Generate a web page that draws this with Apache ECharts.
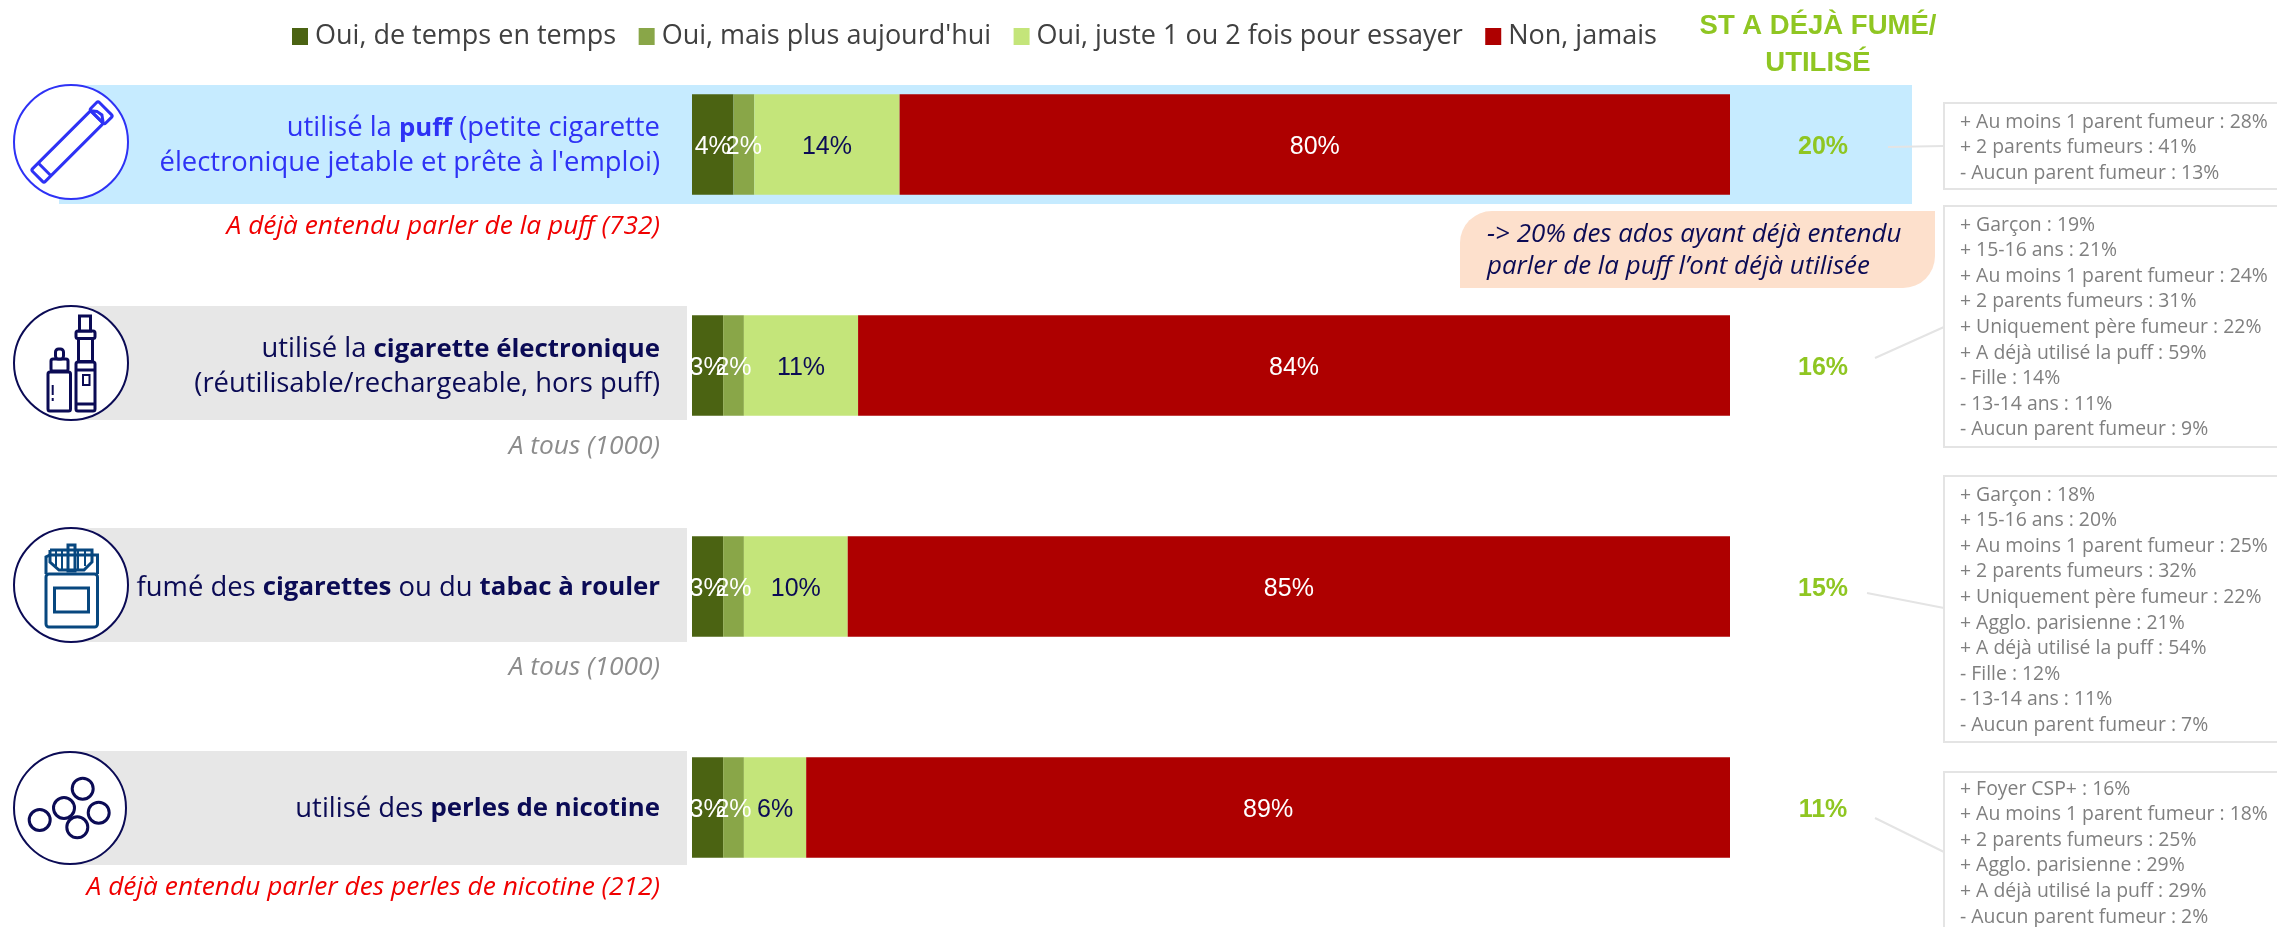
<!DOCTYPE html>
<html><head><meta charset="utf-8">
<style>html,body{margin:0;padding:0;background:#fff}#c{width:2277px;height:927px}</style>
<script src="https://cdn.jsdelivr.net/npm/echarts@6/dist/echarts.min.js"></script>
</head><body><div id="c"></div>
<script>
const categories = [
  "utilisé la **puff** (petite cigarette\nélectronique jetable et prête à l'emploi)",
  "utilisé la **cigarette électronique**\n(réutilisable/rechargeable, hors puff)",
  "fumé des **cigarettes** ou du **tabac à rouler**",
  "utilisé des **perles de nicotine**"
];
const seriesNames = ["Oui, de temps en temps", "Oui, mais plus aujourd'hui", "Oui, juste 1 ou 2 fois pour essayer", "Non, jamais"];
const tempsEnTemps = [4, 3, 3, 3];
const plusAujourdhui = [2, 2, 2, 2];
const uneOuDeuxFois = [14, 11, 10, 6];
const nonJamais = [80, 84, 85, 89];
const totals = [20, 16, 15, 11];
const bases = ["A déjà entendu parler de la puff (732)", "A tous (1000)", "A tous (1000)", "A déjà entendu parler des perles de nicotine (212)"];
const details1 = ["+ Au moins 1 parent fumeur : 28%", "+ 2 parents fumeurs : 41%", "- Aucun parent fumeur : 13%"];
const details2 = ["+ Garçon : 19%", "+ 15-16 ans : 21%", "+ Au moins 1 parent fumeur : 24%", "+ 2 parents fumeurs : 31%", "+ Uniquement père fumeur : 22%", "+ A déjà utilisé la puff : 59%", "- Fille : 14%", "- 13-14 ans : 11%", "- Aucun parent fumeur : 9%"];
const details3 = ["+ Garçon : 18%", "+ 15-16 ans : 20%", "+ Au moins 1 parent fumeur : 25%", "+ 2 parents fumeurs : 32%", "+ Uniquement père fumeur : 22%", "+ Agglo. parisienne : 21%", "+ A déjà utilisé la puff : 54%", "- Fille : 12%", "- 13-14 ans : 11%", "- Aucun parent fumeur : 7%"];
const details4 = ["+ Foyer CSP+ : 16%", "+ Au moins 1 parent fumeur : 18%", "+ 2 parents fumeurs : 25%", "+ Agglo. parisienne : 29%", "+ A déjà utilisé la puff : 29%", "- Aucun parent fumeur : 2%"];
const headerText = "ST A DÉJÀ FUMÉ/\nUTILISÉ";
const calloutText = "-> 20% des ados ayant déjà entendu\nparler de la puff l’ont déjà utilisée";

const FONT = "'Open Sans'";
const NAVY = "#0b0b55", BLUE = "#2e32f5", GREEN = "#8fc622", LINE = "#e4e4e4", DET = "#7f7f7f";
const chart = echarts.init(document.getElementById('c'), null, {renderer: 'canvas'});

function barSeries(name, data, color, labelColor) {
  return {
    name, type: 'bar', stack: 't', data, barWidth: 100.5, itemStyle: {color},
    label: {show: true, position: 'inside', offset: [0, 3], formatter: '{c}%', color: labelColor,
      fontFamily: "'Liberation Sans'", fontSize: 25}
  };
}
function t(x, y, text, style, z) {
  return {type: 'text', x, y, z: z || 5, style: Object.assign({text, fontFamily: FONT}, style)};
}
function ring(cx, cy, r, color, lw) {
  return {type: 'circle', z: 5, shape: {cx, cy, r}, style: {fill: '#fff', stroke: color, lineWidth: lw || 2}};
}
function hole(cx, cy, r, color) {
  return {type: 'circle', z: 6, shape: {cx, cy, r}, style: {fill: 'none', stroke: color, lineWidth: 3}};
}
function box(x, y, w, h, color, lw, r) {
  return {type: 'rect', z: 6, shape: {x, y, width: w, height: h, r: r || 0}, style: {fill: '#fff', stroke: color, lineWidth: lw || 3}};
}
function ln(pts, color, lw, z) {
  return {type: 'polyline', z: z || 7, shape: {points: pts}, style: {fill: 'none', stroke: color, lineWidth: lw || 3}};
}
function detailBox(y, h, lines, firstY) {
  const out = [{type: 'rect', z: 1, shape: {x: 1944, y, width: 400, height: h}, style: {fill: '#fff', stroke: LINE, lineWidth: 2}}];
  lines.forEach((s, i) => out.push(t(1960, firstY + i * 25.6, s, {fontSize: 19.4, fill: DET, textVerticalAlign: 'middle'})));
  return out;
}
const puffIcon = {
  type: 'group', x: 71.5, y: 142.5, rotation: Math.PI / 4, z: 6,
  children: [
    {type: 'rect', z: 6, shape: {x: -48, y: -9, width: 84, height: 18, r: 2}, style: {fill: 'none', stroke: BLUE, lineWidth: 3}},
    {type: 'rect', z: 6, shape: {x: 36, y: -10.5, width: 12, height: 21, r: 2}, style: {fill: 'none', stroke: BLUE, lineWidth: 3}},
    {type: 'line', z: 6, shape: {x1: -38, y1: -9, x2: -38, y2: 9}, style: {stroke: BLUE, lineWidth: 3}},
    {type: 'polyline', z: 6, shape: {points: [[36, -9], [40, -4], [41, 2], [36, 9]]}, style: {fill: 'none', stroke: BLUE, lineWidth: 3}}
  ]
};
const vapeIcon = [
  box(48, 372, 22.5, 39, NAVY, 3, 2), box(51, 359, 17, 12, NAVY, 3, 2), box(55.5, 349, 8, 10, NAVY, 3, 3),
  ln([[52.7, 385], [52.7, 395]], NAVY, 2), ln([[52.7, 398], [52.7, 401]], NAVY, 2),
  box(76, 362, 19, 49, NAVY, 3, 2), ln([[76, 370], [95, 370]], NAVY), ln([[76, 404], [95, 404]], NAVY),
  box(83, 375, 6.5, 10, NAVY, 2), box(78.5, 338.5, 14, 23, NAVY, 3), box(76, 331, 19, 7.5, NAVY, 3, 2), box(79.5, 316, 11, 15, NAVY, 3)
];
const PK = "#07477f";
const packIcon = [
  box(46, 574, 51.5, 53, PK, 3, 3), box(54.5, 588, 34, 24, PK, 3),
  ln([[46, 574], [46, 557], [50, 555], [97.5, 555], [97.5, 574]], PK),
  ln([[50, 550], [92, 550], [92, 562], [84, 570], [59, 570], [50, 562], [50, 550]], PK),
  ln([[56, 551], [56, 566]], PK, 2), ln([[62, 551], [62, 569]], PK, 2), ln([[78, 551], [78, 569]], PK, 2), ln([[85, 551], [85, 566]], PK, 2),
  box(68, 545, 7, 26, PK, 3)
];
const pearls = [[82.7, 788.7], [64, 808], [98.7, 812.7], [77.3, 827.3], [39.7, 820]].map(p => hole(p[0], p[1], 10.5, NAVY));

const baseYs = [227, 447, 668, 888];
const connectors = [[[1888, 147], [1944, 146]], [[1875, 358], [1944, 327]], [[1867, 593], [1944, 608]], [[1875, 818], [1944, 852]]];

const graphic = [
  {type: 'rect', z: -1, shape: {x: 59, y: 85, width: 1853, height: 119}, style: {fill: '#c6ebff'}},
  {type: 'rect', z: -1, shape: {x: 59, y: 306, width: 628, height: 114}, style: {fill: '#e7e7e7'}},
  {type: 'rect', z: -1, shape: {x: 59, y: 528, width: 628, height: 114}, style: {fill: '#e7e7e7'}},
  {type: 'rect', z: -1, shape: {x: 59, y: 751, width: 628, height: 114}, style: {fill: '#e7e7e7'}},
  ring(71, 142, 57, BLUE), ring(71, 363, 57, NAVY), ring(71, 585, 57, NAVY), ring(70, 808, 56, NAVY),
  puffIcon, ...vapeIcon, ...packIcon, ...pearls,
  {type: 'rect', z: 1, shape: {x: 1460, y: 211, width: 475, height: 77, r: [32, 0, 32, 0]}, style: {fill: '#fde0cc'}},
  t(1487, 251, calloutText, {fontSize: 25.9, fontStyle: 'italic', fill: NAVY, lineHeight: 32, textVerticalAlign: 'middle'}),
  t(1818, 45, headerText, {fontFamily: "'Liberation Sans'", fontSize: 27.5, fontWeight: 'bold', fill: GREEN, textAlign: 'center', textVerticalAlign: 'middle', lineHeight: 37}),
  ...bases.map((s, i) => t(660, baseYs[i], s, {fontSize: 26.3, fontStyle: 'italic', fill: (i === 0 || i === 3) ? '#f00000' : '#8c8c8c', textAlign: 'right', textVerticalAlign: 'middle'})),
  ...connectors.map(c => ln(c, LINE, 2, 1)),
  ...detailBox(103, 86, details1, 122),
  ...detailBox(206, 241, details2, 225),
  ...detailBox(476, 266, details3, 495),
  ...detailBox(772, 200, details4, 789)
];

chart.setOption({
  animation: false,
  backgroundColor: '#fff',
  legend: {
    left: 292, top: 23, padding: 0, itemWidth: 16, itemHeight: 17, itemGap: 22.5, icon: 'rect',
    data: seriesNames,
    textStyle: {fontFamily: FONT, fontSize: 27, color: '#404040', padding: [0, 0, 0, 2]}
  },
  grid: {left: 692, width: 1038, top: 34, height: 884, containLabel: false},
  xAxis: {type: 'value', min: 0, max: 100, show: false},
  yAxis: {
    type: 'category', inverse: true, data: categories,
    axisLine: {show: false}, axisTick: {show: false},
    axisLabel: {
      margin: 32, align: 'right', lineHeight: 35, padding: [3, 0, 0, 0],
      formatter: (v, i) => {
        const [n, b] = i === 0 ? ['nb', 'bb'] : ['n', 'b'];
        return v.split('\n').map(line => line.split('**').map((s, k) => s ? `{${k % 2 ? b : n}|${s}}` : '').join('')).join('\n');
      },
      rich: {
        n: {fontFamily: FONT, fontSize: 27.4, color: NAVY, lineHeight: 35},
        b: {fontFamily: FONT, fontSize: 25.8, fontWeight: 'bold', color: NAVY, lineHeight: 35},
        nb: {fontFamily: FONT, fontSize: 27.4, color: BLUE, lineHeight: 35},
        bb: {fontFamily: FONT, fontSize: 25.8, fontWeight: 'bold', color: BLUE, lineHeight: 35}
      }
    }
  },
  graphic: {elements: graphic},
  series: [
    barSeries(seriesNames[0], tempsEnTemps, '#4b6312', '#fff'),
    barSeries(seriesNames[1], plusAujourdhui, '#89a648', '#fff'),
    barSeries(seriesNames[2], uneOuDeuxFois, '#c4e57a', NAVY),
    barSeries(seriesNames[3], nonJamais, '#ae0000', '#fff'),
    {
      type: 'custom', name: 'Total', clip: false, silent: true, z: 6,
      data: totals.map((v, i) => [100, i, v]),
      encode: {x: 0, y: 1},
      renderItem: (params, api) => {
        const p = api.coord([api.value(0), api.value(1)]);
        return {type: 'text', x: p[0] + 93, y: p[1] + 2.5, style: {
          text: api.value(2) + '%', fontFamily: "'Liberation Sans'", fontWeight: 'bold', fontSize: 25,
          fill: GREEN, textAlign: 'center', textVerticalAlign: 'middle'}};
      }
    }
  ]
});
</script></body></html>
